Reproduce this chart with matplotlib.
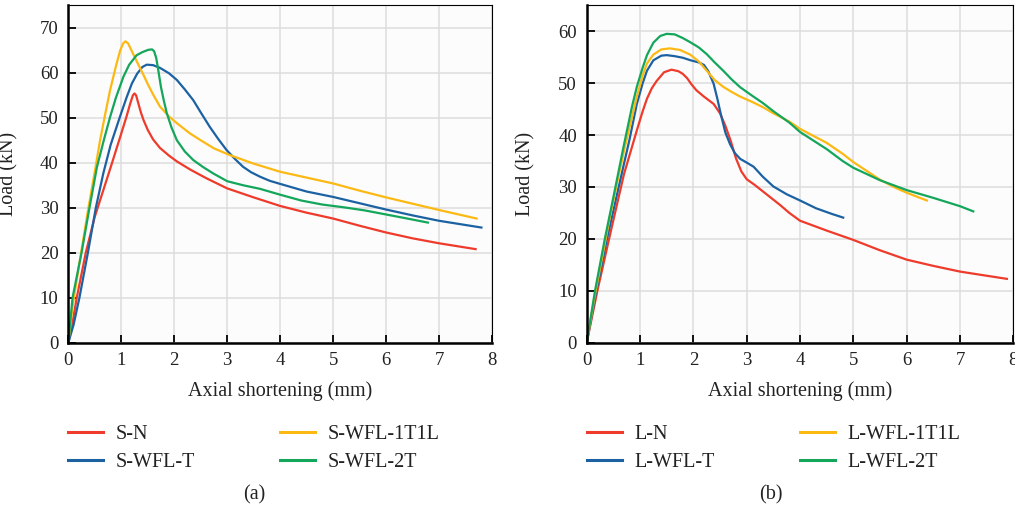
import matplotlib
matplotlib.use("Agg")
import matplotlib.pyplot as plt
from matplotlib.lines import Line2D
from matplotlib.legend import Legend

plt.rcParams['font.family'] = ['Liberation Serif', 'DejaVu Serif']

# ---------------- data (a) ----------------
sn_x = [0, 0.08, 0.16, 0.33, 0.5, 0.8, 1.0, 1.1, 1.17, 1.22, 1.25, 1.28, 1.32, 1.37, 1.42, 1.5, 1.6, 1.73, 1.9, 2.05, 2.3, 2.6, 3.0, 3.5, 4.0, 4.5, 5.0, 5.5, 6.0, 6.5, 7.0, 7.69]
sn_y = [0, 4.5, 10, 20, 28, 39, 46.5, 50.3, 53.2, 55.0, 55.4, 55.0, 53.3, 51.2, 49.5, 47.3, 45.2, 43.3, 41.6, 40.3, 38.5, 36.6, 34.3, 32.3, 30.4, 28.9, 27.6, 26.0, 24.5, 23.2, 22.1, 20.8]

st_x = [0, 0.1, 0.21, 0.37, 0.52, 0.66, 0.8, 0.98, 1.1, 1.2, 1.3, 1.4, 1.48, 1.6, 1.73, 1.9, 2.05, 2.2, 2.36, 2.5, 2.67, 2.83, 2.99, 3.15, 3.3, 3.45, 3.62, 3.8, 4.0, 4.5, 5.0, 5.5, 6.0, 6.5, 7.0, 7.8]
st_y = [0, 4, 10, 20, 30, 37.6, 44, 50.4, 54.5, 57.6, 59.8, 61.3, 61.8, 61.7, 61.1, 59.9, 58.4, 56.3, 53.9, 51.2, 48, 45.3, 42.8, 40.8, 39.1, 37.9, 36.9, 36.0, 35.3, 33.6, 32.4, 31.0, 29.6, 28.3, 27.1, 25.6]

s1_x = [0, 0.08, 0.2, 0.38, 0.5, 0.6, 0.7, 0.79, 0.9, 0.98, 1.04, 1.08, 1.13, 1.2, 1.29, 1.4, 1.5, 1.6, 1.73, 1.9, 2.05, 2.3, 2.5, 2.75, 3.05, 3.5, 4.0, 4.5, 5.0, 5.5, 6.0, 6.5, 7.0, 7.71]
s1_y = [0, 8, 17, 30, 38, 45, 51, 56.2, 61.5, 65, 66.6, 67.0, 66.5, 64.8, 62.6, 60, 57.5, 55.2, 52.5, 50.3, 48.8, 46.5, 45, 43.2, 41.7, 39.8, 38.0, 36.7, 35.4, 33.8, 32.3, 30.9, 29.5, 27.6]

s2_x = [0, 0.08, 0.25, 0.4, 0.54, 0.67, 0.79, 0.9, 1.04, 1.15, 1.29, 1.4, 1.51, 1.58, 1.62, 1.66, 1.7, 1.75, 1.8, 1.86, 1.95, 2.05, 2.2, 2.36, 2.55, 2.74, 3.0, 3.3, 3.62, 4.0, 4.4, 4.8, 5.2, 5.6, 6.0, 6.4, 6.79]
s2_y = [0, 10, 20, 30, 39, 45, 50.2, 54.5, 59.1, 61.8, 63.9, 64.6, 65.1, 65.2, 64.8, 63.3, 60.5, 56.8, 54, 51, 47.8, 45, 42.5, 40.6, 39, 37.6, 35.9, 35.0, 34.2, 32.9, 31.6, 30.7, 30.1, 29.4, 28.5, 27.6, 26.7]

# ---------------- data (b) ----------------
ln_x = [0, 0.2, 0.42, 0.5, 0.7, 0.94, 1.05, 1.13, 1.22, 1.31, 1.45, 1.59, 1.72, 1.8, 1.88, 1.97, 2.06, 2.2, 2.38, 2.5, 2.6, 2.7, 2.8, 2.9, 3.0, 3.15, 3.31, 3.47, 3.63, 3.8, 4.0, 4.5, 5.0, 5.5, 6.0, 6.5, 7.0, 7.5, 7.88]
ln_y = [0, 10, 20, 23.6, 32.5, 40.9, 44.6, 47.0, 49.0, 50.4, 52.1, 52.6, 52.3, 51.8, 51.0, 49.7, 48.6, 47.4, 46.0, 44.2, 41.8, 38.9, 35.5, 33, 31.5, 30.4, 29.1, 27.8, 26.5, 25, 23.5, 21.6, 19.8, 17.8, 16.0, 14.8, 13.7, 12.9, 12.3]

lt_x = [0, 0.18, 0.38, 0.6, 0.8, 0.94, 1.05, 1.13, 1.25, 1.4, 1.5, 1.65, 1.8, 1.95, 2.1, 2.2, 2.28, 2.38, 2.45, 2.52, 2.6, 2.69, 2.78, 2.88, 3.0, 3.13, 3.3, 3.5, 3.75, 4.0, 4.3, 4.6, 4.81]
lt_y = [0, 10, 20, 30, 39, 46, 50, 52.4, 54.4, 55.3, 55.4, 55.2, 54.9, 54.4, 54.0, 53.5, 52.3, 49.9, 47, 43.8, 40.5, 38.2, 36.5, 35.4, 34.7, 33.9, 32.0, 30.1, 28.6, 27.4, 25.9, 24.8, 24.1]

l1_x = [0, 0.15, 0.3, 0.44, 0.7, 0.94, 1.05, 1.13, 1.25, 1.4, 1.56, 1.75, 1.94, 2.1, 2.25, 2.4, 2.56, 2.72, 2.88, 3.1, 3.3, 3.5, 3.8, 4.0, 4.5, 4.8, 5.0, 5.5, 5.8, 6.0, 6.2, 6.38]
l1_y = [0, 9, 17, 24.5, 37, 47.4, 51.5, 53.8, 55.5, 56.5, 56.7, 56.4, 55.5, 54.2, 52.4, 50.6, 49.3, 48.3, 47.4, 46.4, 45.4, 44.2, 42.6, 41.2, 38.5, 36.4, 34.8, 31.4, 29.8, 28.9, 28.1, 27.4]

l2_x = [0, 0.156, 0.34, 0.5, 0.69, 0.85, 0.94, 1.05, 1.13, 1.25, 1.38, 1.5, 1.65, 1.8, 1.94, 2.1, 2.25, 2.4, 2.56, 2.72, 2.88, 3.1, 3.3, 3.5, 3.8, 4.0, 4.5, 4.8, 5.0, 5.5, 6.0, 6.5, 7.0, 7.25]
l2_y = [0, 10, 20, 28, 37.7, 45.5, 49.3, 53, 55.4, 57.8, 59.1, 59.5, 59.4, 58.7, 57.9, 56.9, 55.6, 54.0, 52.4, 50.7, 49.2, 47.6, 46.2, 44.6, 42.4, 40.6, 37.3, 35.0, 33.7, 31.3, 29.4, 27.9, 26.3, 25.3]

labels_a = ['S-N', 'S-WFL-T', 'S-WFL-1T1L', 'S-WFL-2T']
labels_b = ['L-N', 'L-WFL-T', 'L-WFL-1T1L', 'L-WFL-2T']
colors = ['#EE3B2B', '#1C62A3', '#FCB914', '#14A65B']

W, H = 1015, 513
fig = plt.figure(figsize=(W / 100, H / 100), dpi=100)

def px_axes(l, r, b, t):
    return fig.add_axes([l / W, 1 - b / H, (r - l) / W, (b - t) / H])

ax1 = px_axes(68.3, 492, 342.7, 5.3)
ax2 = px_axes(586.7, 1013.3, 342.7, 5.3)

def style(ax, ymax, yticks):
    ax.set_facecolor('#fcfcfc')
    ax.set_xlim(0, 8)
    ax.set_ylim(0, ymax)
    ax.set_xticks(range(0, 9))
    ax.set_yticks(yticks)
    ax.grid(True, color='#dddddd', linewidth=1.1)
    ax.set_axisbelow(True)
    for s in ['left', 'bottom']:
        ax.spines[s].set_linewidth(1.8)
    for s in ['top', 'right']:
        ax.spines[s].set_linewidth(0.8)
    ax.tick_params(direction='in', length=5.5, width=1.3, labelsize=13.5, pad=7,
                   colors='black', labelcolor='#222222')
    ax.set_xlabel('Axial shortening (mm)', fontsize=14.5, color='#222222')
    ax.set_ylabel('Load (kN)', fontsize=14.5, color='#222222')

style(ax1, 75, range(0, 71, 10))
style(ax2, 65, range(0, 61, 10))

lw = 1.6
series_a = [(sn_x, sn_y), (st_x, st_y), (s1_x, s1_y), (s2_x, s2_y)]
series_b = [(ln_x, ln_y), (lt_x, lt_y), (l1_x, l1_y), (l2_x, l2_y)]
for (x, y), c in zip(series_a, colors):
    ax1.plot(x, y, color=c, lw=lw, solid_joinstyle='round')
for (x, y), c in zip(series_b, colors):
    ax2.plot(x, y, color=c, lw=lw, solid_joinstyle='round')

ax1.yaxis.set_label_coords((18.5 - 68.3) / 423.7, 0.5)
ax2.yaxis.set_label_coords((535.5 - 586.7) / 426.6, 0.5)
ax1.xaxis.set_label_coords(0.5, (342.7 - 381) / 337.4)
ax2.xaxis.set_label_coords(0.5, (342.7 - 381) / 337.4)

def add_legend(ax, labels, x1, x2):
    handles = [Line2D([], [], color=c, lw=2.2) for c in colors]
    for cols, xx in (([0, 1], x1), ([2, 3], x2)):
        leg = Legend(fig, [handles[i] for i in cols], [labels[i] for i in cols],
                     loc='upper left', bbox_to_anchor=(xx / W, 1 - 425 / H),
                     bbox_transform=fig.transFigure, frameon=False,
                     fontsize=14.5, handlelength=1.75, handletextpad=0.6,
                     labelspacing=0.42, borderpad=0, borderaxespad=0)
        for t in leg.get_texts():
            t.set_color('#222222')
        fig.legends.append(leg)

add_legend(ax1, labels_a, 68, 280)
add_legend(ax2, labels_b, 587, 800)

fig.text(254 / W, 1 - 495 / H, '(a)', ha='center', va='center', fontsize=14.5, color='#222222')
fig.text(771 / W, 1 - 495 / H, '(b)', ha='center', va='center', fontsize=14.5, color='#222222')

fig.savefig('out.png', dpi=100)
